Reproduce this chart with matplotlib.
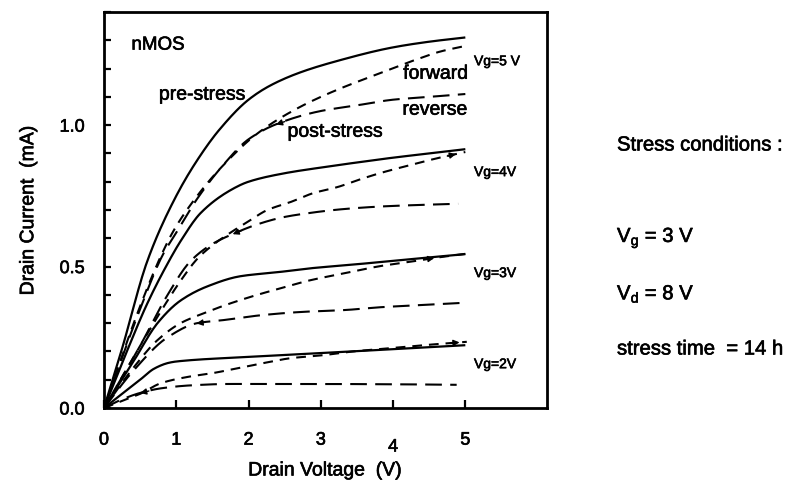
import numpy as np
import matplotlib
matplotlib.use("Agg")
import matplotlib.pyplot as plt
import matplotlib.patheffects as pe
from matplotlib.ticker import MultipleLocator, FixedLocator
from matplotlib.transforms import ScaledTranslation

plt.rcParams['font.family'] = ['Liberation Sans', 'DejaVu Sans']
plt.rcParams['mathtext.fontset'] = 'custom'
plt.rcParams['mathtext.rm'] = 'Liberation Sans'
plt.rcParams['mathtext.it'] = 'Liberation Sans'
plt.rcParams['lines.scale_dashes'] = False

# ---------------- data (Vd in V, Id in mA) ----------------
vg_labels = ["Vg=5 V", "Vg=4V", "Vg=3V", "Vg=2V"]

# pre-stress (solid)
pre5_x = [0, 0.25, 0.6, 1.0, 1.3, 1.6, 2.0, 2.3, 2.7, 3.2, 4.0, 4.5, 5.0]
pre5_y = [0, 0.21, 0.52, 0.75, 0.88, 0.985, 1.09, 1.14, 1.185, 1.225, 1.275, 1.295, 1.31]
pre4_x = [0, 0.3, 0.6, 0.9, 1.06, 1.34, 1.75, 2.0, 2.5, 3.0, 3.5, 4.0, 4.5, 5.0]
pre4_y = [0, 0.19, 0.37, 0.52, 0.59, 0.69, 0.77, 0.80, 0.83, 0.85, 0.868, 0.885, 0.90, 0.915]
pre3_x = [0, 0.42, 0.74, 1.06, 1.43, 1.89, 2.4, 2.86, 3.4, 3.87, 4.4, 5.0]
pre3_y = [0, 0.17, 0.30, 0.38, 0.43, 0.466, 0.48, 0.494, 0.506, 0.517, 0.53, 0.544]
pre2_x = [0, 0.3, 0.5, 0.7, 0.9, 1.02, 2.03, 3.0, 4.0, 5.0]
pre2_y = [0, 0.06, 0.10, 0.14, 0.16, 0.165, 0.181, 0.194, 0.208, 0.222]

# post-stress forward (short dashes)
fwd5_x = [0, 0.5, 0.81, 0.97, 1.29, 1.62, 2.12, 2.68, 3.18, 3.78, 4.3, 4.65, 5.0]
fwd5_y = [0, 0.36, 0.55, 0.63, 0.75, 0.85, 0.97, 1.06, 1.12, 1.18, 1.23, 1.26, 1.28]
fwd4_x = [0, 0.5, 0.88, 1.06, 1.3, 1.5, 1.75, 2.0, 2.26, 2.58, 2.9, 3.23, 3.55, 3.87, 4.24, 4.61, 5.0]
fwd4_y = [0, 0.22, 0.38, 0.45, 0.53, 0.575, 0.62, 0.66, 0.70, 0.728, 0.76, 0.781, 0.809, 0.834, 0.859, 0.883, 0.905]
fwd3_x = [0, 0.4, 0.74, 1.06, 1.38, 1.75, 2.12, 2.44, 2.86, 3.3, 3.83, 4.24, 4.56, 5.0]
fwd3_y = [0, 0.14, 0.24, 0.30, 0.335, 0.37, 0.40, 0.423, 0.452, 0.475, 0.502, 0.517, 0.53, 0.545]
fwd2_x = [0, 0.28, 0.5, 0.79, 1.16, 1.52, 1.85, 2.21, 2.58, 3.04, 3.41, 4.0, 4.47, 5.02]
fwd2_y = [0, 0.028, 0.05, 0.088, 0.11, 0.124, 0.141, 0.159, 0.176, 0.187, 0.199, 0.212, 0.223, 0.234]

# post-stress reverse (long dashes)
rev5_x = [0, 0.5, 0.81, 1.0, 1.29, 1.62, 2.0, 2.4, 3.0, 3.5, 4.0, 4.5, 5.0]
rev5_y = [0, 0.35, 0.54, 0.62, 0.74, 0.85, 0.95, 1.005, 1.05, 1.07, 1.09, 1.10, 1.11]
rev4_x = [0, 0.5, 0.88, 1.2, 1.5, 1.8, 2.13, 2.49, 2.86, 3.18, 3.55, 3.96, 4.38, 4.9]
rev4_y = [0, 0.22, 0.40, 0.52, 0.58, 0.617, 0.65, 0.675, 0.69, 0.70, 0.708, 0.714, 0.718, 0.722]
rev3_x = [0, 0.4, 0.88, 1.29, 1.66, 2.21, 2.76, 3.31, 3.87, 4.42, 4.98]
rev3_y = [0, 0.13, 0.25, 0.30, 0.311, 0.329, 0.34, 0.346, 0.357, 0.364, 0.372]
rev2_x = [0, 0.2, 0.51, 0.8, 1.2, 1.75, 2.81, 3.96, 4.88]
rev2_y = [0, 0.025, 0.054, 0.07, 0.08, 0.085, 0.085, 0.084, 0.082]

x_ticks = [0, 1, 2, 3, 4, 5]
x_tick_labels = ["0", "1", "2", "3", "4", "5"]
y_ticks = [0.0, 0.5, 1.0]
y_tick_labels = ["0.0", "0.5", "1.0"]

# ---------------- figure ----------------
fig = plt.figure(figsize=(8.08, 4.86), dpi=100)
ax = fig.add_axes([104/808, 1-408/486, 443/808, 396/486])
ax.set_xlim(0, 6.13)
ax.set_ylim(0, 1.40)

heavy = [pe.withStroke(linewidth=0.45, foreground='black')]

lw = 1.5
short_dash = (0, (7, 5))
long_dash = (0, (12, 6))

pre = [(pre5_x, pre5_y), (pre4_x, pre4_y), (pre3_x, pre3_y), (pre2_x, pre2_y)]
fwd = [(fwd5_x, fwd5_y), (fwd4_x, fwd4_y), (fwd3_x, fwd3_y), (fwd2_x, fwd2_y)]
rev = [(rev5_x, rev5_y), (rev4_x, rev4_y), (rev3_x, rev3_y), (rev2_x, rev2_y)]

def smooth(xs, ys, n=200):
    xs = np.asarray(xs, float); ys = np.asarray(ys, float)
    h = np.diff(xs); d = np.diff(ys) / h
    m = np.zeros_like(xs)
    m[0] = d[0]; m[-1] = d[-1]
    for i in range(1, len(xs)-1):
        if d[i-1]*d[i] <= 0:
            m[i] = 0
        else:
            w1 = 2*h[i] + h[i-1]; w2 = h[i] + 2*h[i-1]
            m[i] = (w1 + w2) / (w1/d[i-1] + w2/d[i])
    xx = np.linspace(xs[0], xs[-1], n)
    idx = np.clip(np.searchsorted(xs, xx) - 1, 0, len(xs)-2)
    t = (xx - xs[idx]) / h[idx]
    h00 = 2*t**3 - 3*t**2 + 1; h10 = t**3 - 2*t**2 + t
    h01 = -2*t**3 + 3*t**2; h11 = t**3 - t**2
    yy = h00*ys[idx] + h10*h[idx]*m[idx] + h01*ys[idx+1] + h11*h[idx]*m[idx+1]
    return xx, yy

for (xs, ys) in pre:
    ax.plot(*smooth(xs, ys), color='black', lw=1.6, solid_capstyle='butt')
for (xs, ys) in fwd:
    ax.plot(*smooth(xs, ys), color='black', lw=lw, linestyle=short_dash)
for (xs, ys) in rev:
    ax.plot(*smooth(xs, ys), color='black', lw=lw, linestyle=long_dash)

# small direction arrowheads
def arrow_on(xs, ys, x_at, direction):
    y_at = np.interp(x_at, xs, ys)
    dx = 0.12 * direction
    y2 = np.interp(x_at + dx, xs, ys)
    ax.annotate('', xy=(x_at + dx, y2), xytext=(x_at, y_at),
                arrowprops=dict(arrowstyle='-|>', color='black', lw=1.0,
                                mutation_scale=9, shrinkA=0, shrinkB=0))

arrow_on(rev5_x, rev5_y, 2.5, -1)
arrow_on(rev4_x, rev4_y, 1.9, -1)
arrow_on(rev3_x, rev3_y, 1.4, -1)
arrow_on(rev2_x, rev2_y, 0.62, -1)
arrow_on(fwd4_x, fwd4_y, 4.75, 1)
arrow_on(fwd3_x, fwd3_y, 4.45, 1)
arrow_on(fwd2_x, fwd2_y, 4.8, 1)

# spines and ticks
for s in ax.spines.values():
    s.set_linewidth(2.0)
ax.xaxis.set_major_locator(FixedLocator(x_ticks))
ax.set_xticklabels(x_tick_labels)
ax.yaxis.set_major_locator(FixedLocator(y_ticks))
ax.set_yticklabels(y_tick_labels)
ax.yaxis.set_minor_locator(MultipleLocator(0.1))
ax.tick_params(axis='both', which='both', direction='in', width=1.6, labelsize=13)
ax.tick_params(axis='x', which='major', length=6, pad=17)
ax.tick_params(axis='y', which='major', length=5, pad=14)
ax.tick_params(axis='y', which='minor', length=5)
ax.tick_params(axis='x', which='minor', bottom=False)

for lbl in ax.get_xticklabels() + ax.get_yticklabels():
    lbl.set_path_effects(heavy)
# the "4" label sits slightly lower in the original
lab4 = ax.get_xticklabels()[4]
lab4.set_transform(lab4.get_transform() + ScaledTranslation(0, -5/72, fig.dpi_scale_trans))

xl = ax.set_xlabel("Drain Voltage  (V)", fontsize=14, labelpad=5)
yl = ax.set_ylabel("Drain Current  (mA)", fontsize=14, labelpad=16)
xl.set_path_effects(heavy)
yl.set_path_effects(heavy)

# annotations
txt_kw = dict(va='center', ha='left', path_effects=heavy)
ax.text(0.38, 1.283, "nMOS", fontsize=13.5, **txt_kw)
ax.text(0.76, 1.106, "pre-stress", fontsize=14, **txt_kw)
ax.text(4.14, 1.18, "forward", fontsize=14, **txt_kw)
ax.text(4.13, 1.053, "reverse", fontsize=14, **txt_kw)
ax.text(2.54, 0.975, "post-stress", fontsize=14, **txt_kw)
vg_y = [1.226, 0.834, 0.477, 0.155]
for lab, yy in zip(vg_labels, vg_y):
    ax.text(5.12, yy, lab, fontsize=10, **txt_kw)

fig.text(617/808, 1-145/486, "Stress conditions :", fontsize=14.6, **txt_kw)
fig.text(617/808, 1-238/486, r"V$_{\mathregular{g}}$ = 3 V", fontsize=14.6, **txt_kw)
fig.text(617/808, 1-294/486, r"V$_{\mathregular{d}}$ = 8 V", fontsize=14.6, **txt_kw)
fig.text(617/808, 1-349/486, "stress time  = 14 h", fontsize=14.6, **txt_kw)

fig.savefig("out.png", dpi=100)
